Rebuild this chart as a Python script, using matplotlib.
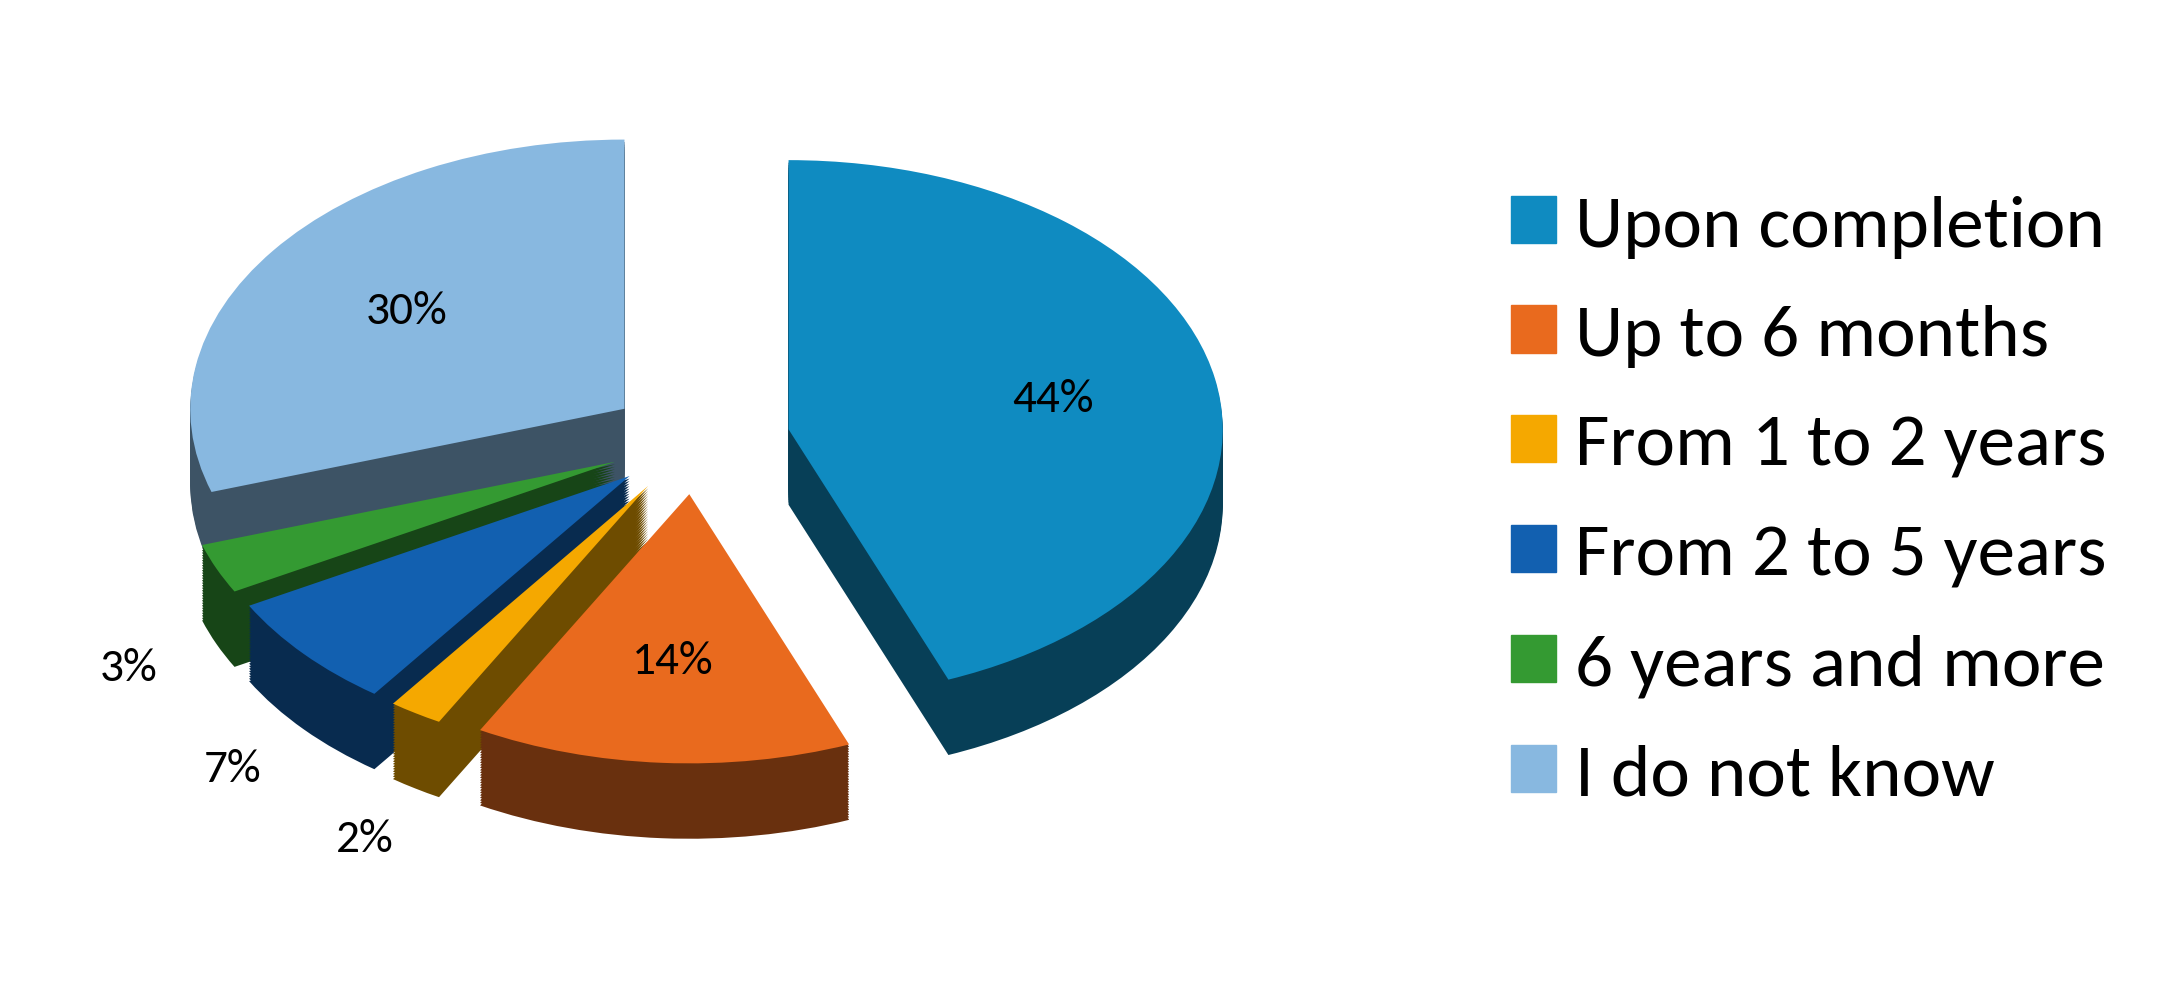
import matplotlib.pyplot as plt
import matplotlib.colors as mcolors
import numpy as np

labels = ["Upon completion", "Up to 6 months", "From 1 to 2 years",
          "From 2 to 5 years", "6 years and more", "I do not know"]
values = [44, 14, 2, 7, 3, 30]
colors = ["#0f8bc1", "#e96a1e", "#f5a800", "#1260b0", "#349a32", "#88b8e0"]
explode = [0.22, 0.2, 0.2, 0.2, 0.2, 0.2]

plt.rcParams['font.family'] = ['Calibri', 'Carlito', 'DejaVu Sans']
fig = plt.figure(figsize=(21.71, 10.04), dpi=100)
ax = fig.add_axes([0.0, 0.0, 0.64, 1.0])

def darker(c, f):
    r, g, b = mcolors.to_rgb(c)
    return (r * f, g * f, b * f)

depth = 0.28
steps = 30
for i in range(steps, 0, -1):
    off = -depth * i / steps
    ax.pie(values, colors=[darker(c, 0.45) for c in colors], explode=explode,
           startangle=90, counterclock=False, center=(0, off),
           wedgeprops=dict(linewidth=0))

wedges, _ = ax.pie(values, colors=colors, explode=explode, startangle=90,
                   counterclock=False, wedgeprops=dict(linewidth=0))

# percentage labels
ang0 = 90
for w, v, e in zip(wedges, values, explode):
    mid = np.deg2rad(ang0 - v * 3.6 / 2)
    ang0 -= v * 3.6
    r = 0.62 + e if v >= 10 else 1.22 + e
    dy = 0 if v >= 10 else -depth
    ax.text(r * np.cos(mid), r * np.sin(mid) + dy, f"{v}%", ha='center',
            va='center', fontsize=34)

ax.set_aspect(0.62)
ax.set_xlim(-1.6, 1.6)
ax.set_ylim(-1.75, 1.3)
ax.axis('off')

handles = [plt.Rectangle((0, 0), 1, 1, color=c) for c in colors]
fig.legend(handles, labels, loc='center left', bbox_to_anchor=(0.665, 0.5),
           frameon=False, fontsize=54, labelspacing=0.62, handlelength=0.6,
           handleheight=0.6, handletextpad=0.25)

fig.savefig("out.png", dpi=100)
